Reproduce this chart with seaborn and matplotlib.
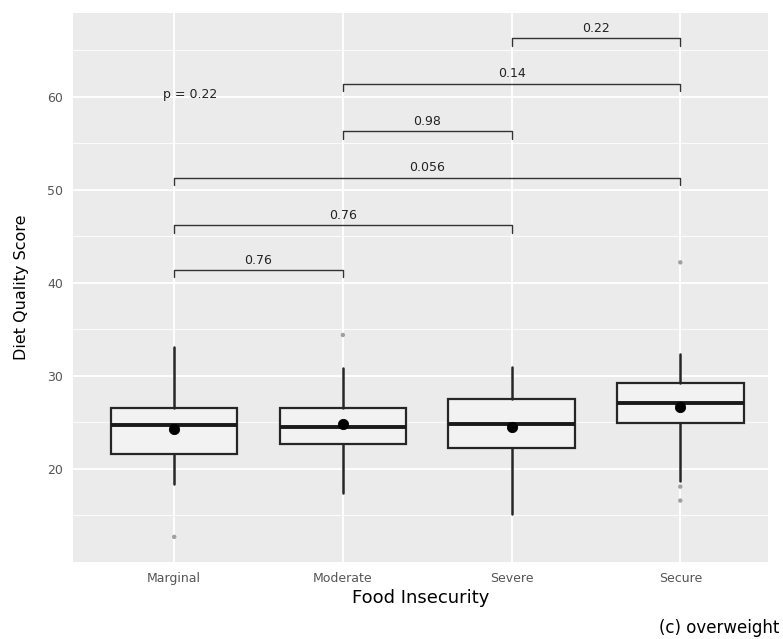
import numpy as np
import pandas as pd
import matplotlib
matplotlib.use("Agg")
import matplotlib.pyplot as plt
from matplotlib.ticker import MultipleLocator
import seaborn as sns


# ---- data ----
groups = ["Marginal", "Moderate", "Severe", "Secure"]
whisk_low = [18.4, 17.4, 15.2, 18.7]
q1 = [21.6, 22.7, 22.2, 24.9]
medians = [24.7, 24.5, 24.8, 27.1]
q3 = [26.6, 26.5, 27.5, 29.2]
whisk_high = [33.1, 30.9, 31.0, 32.3]
means = [24.3, 24.8, 24.5, 26.7]

outlier_group = ["Marginal", "Moderate", "Secure", "Secure", "Secure"]
outlier_value = [12.7, 34.4, 42.2, 18.1, 16.6]

# pairwise comparisons (bracket height, p value)
comp_a = ["Marginal", "Marginal", "Marginal", "Moderate", "Moderate", "Severe"]
comp_b = ["Moderate", "Severe", "Secure", "Severe", "Secure", "Secure"]
comp_y = [41.4, 46.2, 51.3, 56.3, 61.4, 66.3]
comp_p = ["0.76", "0.76", "0.056", "0.98", "0.14", "0.22"]
global_p = "p = 0.22"
global_p_y = 60.2


# ---- theme (ggplot grey look) ----
sns.set_theme(style="darkgrid", rc={
    "axes.facecolor": "#EBEBEB",
    "grid.color": "white",
    "figure.facecolor": "white",
})
plt.rcParams["font.family"] = ["DejaVu Sans"]

fig = plt.figure(figsize=(7.83, 6.39), dpi=100)
ax = fig.add_axes([73 / 783, 77 / 639, 695 / 783, 549 / 639])

pos = {g: i for i, g in enumerate(groups)}

# boxes
stats = []
for i, g in enumerate(groups):
    stats.append({
        "label": g, "whislo": whisk_low[i], "q1": q1[i], "med": medians[i],
        "q3": q3[i], "whishi": whisk_high[i], "fliers": [],
    })
ax.bxp(stats, positions=np.arange(len(groups)), widths=0.75, patch_artist=True,
       showcaps=False, showfliers=False,
       boxprops=dict(facecolor="#F2F2F2", edgecolor="#262626", linewidth=1.6),
       whiskerprops=dict(color="#262626", linewidth=1.8),
       medianprops=dict(color="#1A1A1A", linewidth=2.8))

# outliers and means
out_df = pd.DataFrame({"x": [pos[g] for g in outlier_group], "y": outlier_value})
sns.scatterplot(data=out_df, x="x", y="y", ax=ax, color="#A0A0A0", s=10,
                marker="o", edgecolor="none", legend=False, zorder=4)

mean_df = pd.DataFrame({"x": [pos[g] for g in groups], "y": means})
sns.scatterplot(data=mean_df, x="x", y="y", ax=ax, color="black", s=55,
                edgecolor="black", legend=False, zorder=5)

# brackets with p values
tip = 0.8
for a, b, y, p in zip(comp_a, comp_b, comp_y, comp_p):
    xa, xb = pos[a], pos[b]
    ax.plot([xa, xa, xb, xb], [y - tip, y, y, y - tip], color="#333333",
            linewidth=1.0, zorder=3)
    ax.text((xa + xb) / 2, y + 0.35, p, ha="center", va="bottom",
            fontsize=9, color="#222222")

ax.text(pos[groups[0]] - 0.065, global_p_y, global_p, ha="left", va="center",
        fontsize=9, color="#222222")

# axes
ax.set_xlim(-0.6, 3.52)
ax.set_ylim(10.0, 69.0)
ax.set_xticks(np.arange(len(groups)))
ax.set_xticklabels(groups)
ax.set_yticks([20, 30, 40, 50, 60])
ax.yaxis.set_minor_locator(MultipleLocator(5))
ax.grid(which="major", color="white", linewidth=1.3)
ax.grid(which="minor", axis="y", color="white", linewidth=0.6)
ax.tick_params(axis="both", which="major", length=4, width=0.9,
               color="#333333", labelcolor="#555555", labelsize=9, pad=3)
ax.tick_params(axis="y", which="minor", length=0)
for s in ax.spines.values():
    s.set_visible(False)

ax.set_xlabel("Food Insecurity", fontsize=13, color="black", labelpad=3)
ax.set_ylabel("Diet Quality Score", fontsize=11.5, color="black", labelpad=13)

fig.text(0.996, 0.017, "(c) overweight", ha="right", va="center",
         fontsize=12, color="black")

fig.savefig("out.png", dpi=100)
